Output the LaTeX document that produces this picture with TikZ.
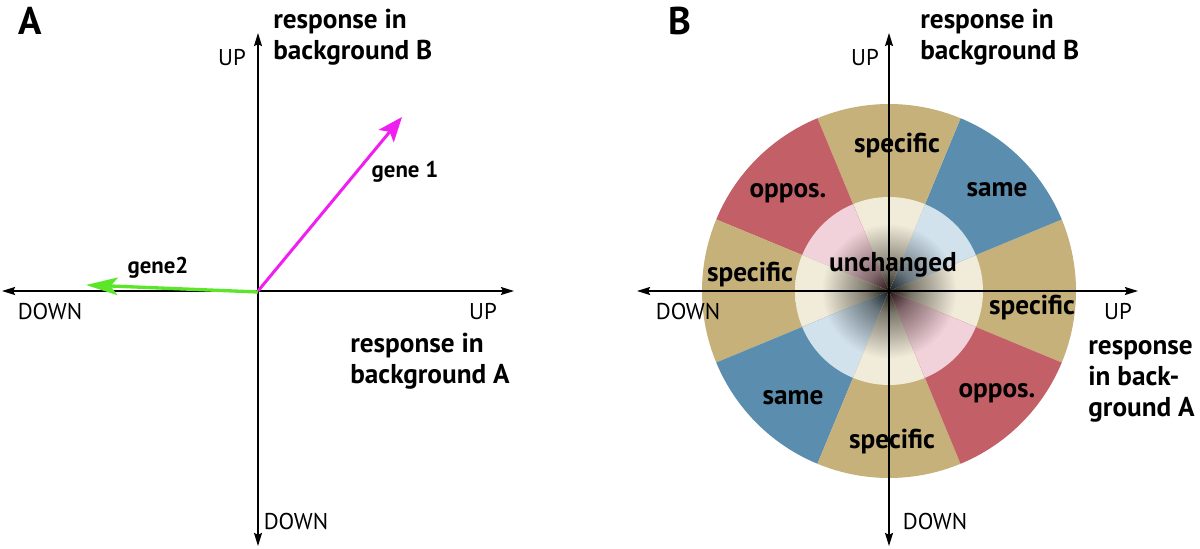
\documentclass[tikz,border=0pt]{standalone}
\usepackage{fontspec}
\setmainfont{PT Sans}
\usetikzlibrary{arrows.meta}

\definecolor{specfill}{HTML}{C5B179}
\definecolor{samefill}{HTML}{5A8DAE}
\definecolor{opposfill}{HTML}{C35F66}
\definecolor{specpale}{HTML}{F1ECDA}
\definecolor{samepale}{HTML}{D2E2EC}
\definecolor{oppospale}{HTML}{F2D2DA}
\colorlet{specdark}{black!85!specfill}
\colorlet{samedark}{black!80!samefill}
\colorlet{opposdark}{black!80!opposfill}
\colorlet{specmid}{specpale!45!specdark}
\colorlet{samemid}{samepale!45!samedark}
\colorlet{opposmid}{oppospale!45!opposdark}
\definecolor{geneonecol}{HTML}{F01EF0}
\definecolor{genetwocol}{HTML}{5BE62A}

% centre of the inner ring fades to dark
\pgfdeclareradialshading{specshade}{\pgfpoint{0bp}{0bp}}{color(0bp)=(specdark); color(6bp)=(specmid); color(18bp)=(specpale); color(50bp)=(specpale)}
\pgfdeclareradialshading{sameshade}{\pgfpoint{0bp}{0bp}}{color(0bp)=(samedark); color(6bp)=(samemid); color(18bp)=(samepale); color(50bp)=(samepale)}
\pgfdeclareradialshading{opposshade}{\pgfpoint{0bp}{0bp}}{color(0bp)=(opposdark); color(6bp)=(opposmid); color(18bp)=(oppospale); color(50bp)=(oppospale)}

\begin{document}
\begin{tikzpicture}[x=0.02cm,y=0.02cm,
    axis/.style={line width=0.85pt,-{Stealth[length=7.5pt,width=4.6pt,inset=1.2pt]}},
    heading/.style={font=\bfseries\fontsize{15.5}{17.6}\selectfont,align=left,inner sep=0pt},
    dirlabel/.style={font=\fontsize{13}{15}\selectfont,inner sep=0pt},
    sector/.style={font=\bfseries\fontsize{15.5}{17}\selectfont,inner sep=0pt},
    genelabel/.style={font=\bfseries\fontsize{13}{15}\selectfont,inner sep=0pt},
    panel/.style={font=\bfseries\fontsize{22}{22}\selectfont,inner sep=0pt}]
    \useasboundingbox (0,0) rectangle (1200,548);

    % panel A
    \coordinate (oA) at (258,257);
    \coordinate (aL) at (2,257);
    \coordinate (aR) at (514,257);
    \coordinate (aT) at (258,515);
    \coordinate (aB) at (258,2);
    \draw[axis] (oA) -- (aL);
    \draw[axis] (oA) -- (aR);
    \draw[axis] (oA) -- (aT);
    \draw[axis] (oA) -- (aB);
    \coordinate (g1) at (402,431);
    \coordinate (g2) at (86,263);
    \draw[geneonecol,line width=1.7pt,-{Stealth[length=14pt,width=11pt,inset=3pt]}] (oA) -- (g1);
    \draw[genetwocol,line width=1.9pt,-{Stealth[length=18pt,width=10pt,inset=4pt]}] (258,256) -- (g2);
    \node[panel] (pA) at (30,527) {A};
    \node[dirlabel] (upA) at (232,490) {UP};
    \node[dirlabel] (downAl) at (50,236) {DOWN};
    \node[dirlabel] (upAr) at (483,236) {UP};
    \node[dirlabel] (downAb) at (296,26) {DOWN};
    \node[heading,anchor=west] (respBA) at (273,511) {response in\\background B};
    \node[heading,anchor=west] (respAA) at (350,187) {response in\\background A};
    \node[genelabel] (gene1) at (405,376) {gene 1};
    \node[genelabel] (gene2) at (158,280) {gene2};

    % panel B
    \coordinate (oB) at (889,257);
    \foreach \a/\b/\col in {-22.5/22.5/spec,22.5/67.5/same,67.5/112.5/spec,112.5/157.5/oppos,
        157.5/202.5/spec,202.5/247.5/same,247.5/292.5/spec,292.5/337.5/oppos} {
      \fill[\col fill] (oB) -- ++(\a:187) arc[start angle=\a,end angle=\b,radius=187] -- cycle;
      \begin{scope}
        \clip (oB) -- ++(\a:94) arc[start angle=\a,end angle=\b,radius=94] -- cycle;
        \shade[shading=\col shade] (oB) circle[radius=94];
      \end{scope}
    }
    \coordinate (bL) at (637,257);
    \coordinate (bR) at (1138,257);
    \coordinate (bT) at (889,515);
    \coordinate (bB) at (889,2);
    \draw[axis] (oB) -- (bL);
    \draw[axis] (oB) -- (bR);
    \draw[axis] (oB) -- (bT);
    \draw[axis] (oB) -- (bB);
    \node[sector] (sT) at (897,402) {specific};
    \node[sector] (sL) at (750,273) {specific};
    \node[sector] (sR) at (1032,240) {specific};
    \node[sector] (sB) at (892,106) {specific};
    \node[sector] (smTR) at (997,358) {same};
    \node[sector] (smBL) at (793,150) {same};
    \node[sector] (opTL) at (788,355) {oppos.};
    \node[sector] (opBR) at (997,155) {oppos.};
    \node[sector] (unch) at (893,283) {unchanged};
    \node[panel] (pB) at (680,527) {B};
    \node[dirlabel] (upB) at (865,490) {UP};
    \node[dirlabel] (downBl) at (688,236) {DOWN};
    \node[dirlabel] (upBr) at (1118,236) {UP};
    \node[dirlabel] (downBb) at (935,26) {DOWN};
    \node[heading,anchor=west] (respBB) at (920,511) {response in\\background B};
    \node[heading,anchor=west] (respAB) at (1088,167) {response\\in back-\\ground A};
\end{tikzpicture}
\end{document}
